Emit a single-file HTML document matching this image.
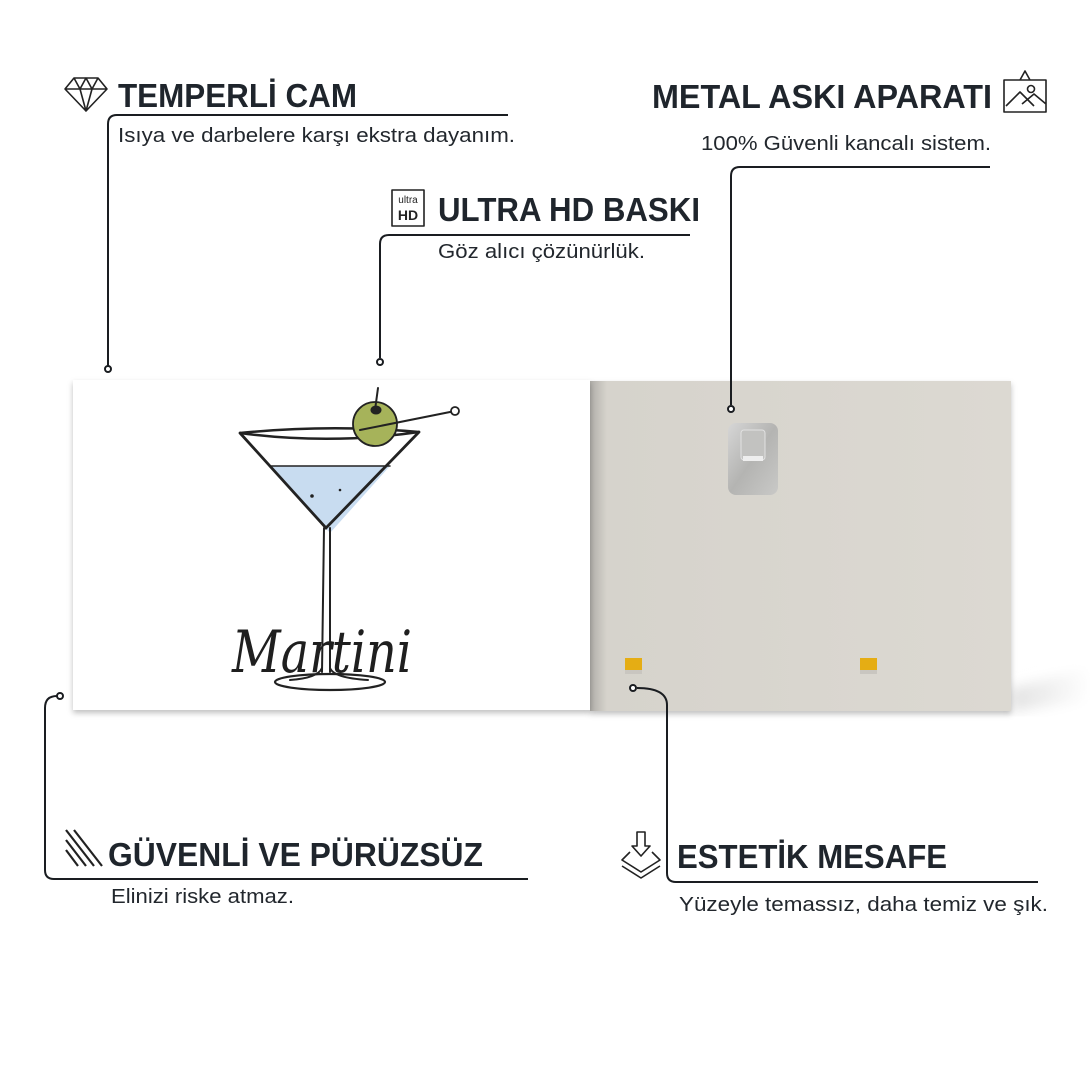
<!DOCTYPE html>
<html><head><meta charset="utf-8"><style>
html,body{margin:0;padding:0;background:#fff;}
svg{display:block;}
.h{font-family:"Liberation Sans",sans-serif;font-weight:bold;fill:#1f252c;}
.s{font-family:"Liberation Sans",sans-serif;fill:#22272d;}
</style></head><body>
<svg width="1090" height="1090" viewBox="0 0 1090 1090" xmlns="http://www.w3.org/2000/svg">
<defs>
<linearGradient id="gl" x1="0" x2="1"><stop offset="0" stop-color="#b0aea9"/><stop offset="0.04" stop-color="#d6d3cc"/><stop offset="1" stop-color="#dcd9d2"/></linearGradient>
<linearGradient id="mt" x1="0" y1="0" x2="1" y2="1"><stop offset="0" stop-color="#d6d6d6"/><stop offset="0.5" stop-color="#b4b4b2"/><stop offset="1" stop-color="#c9c9c7"/></linearGradient>
<linearGradient id="rs" x1="0" x2="1"><stop offset="0" stop-color="#e2e2e2"/><stop offset="1" stop-color="#fff"/></linearGradient>
<filter id="sh" x="-5%" y="-5%" width="110%" height="115%"><feDropShadow dx="0" dy="3" stdDeviation="3" flood-color="#000" flood-opacity="0.25"/></filter>
<filter id="bl"><feGaussianBlur stdDeviation="6"/></filter>
</defs>
<polygon points="1011,688 1090,668 1090,700 1011,712" fill="url(#rs)" filter="url(#bl)"/>
<rect x="590" y="381" width="421" height="330" fill="url(#gl)" filter="url(#sh)"/>
<rect x="625" y="658" width="17" height="12" fill="#e5ad14"/><rect x="625" y="670" width="17" height="4" fill="#c9c6c0"/>
<rect x="860" y="658" width="17" height="12" fill="#e5ad14"/><rect x="860" y="670" width="17" height="4" fill="#c9c6c0"/>
<rect x="728" y="423" width="50" height="72" rx="8" fill="url(#mt)"/>
<rect x="741" y="430" width="24" height="30" rx="3" fill="#c2c2c0" stroke="#e2e2e2" stroke-width="1"/>
<rect x="743" y="456" width="20" height="5" fill="#eeeeee"/>
<rect x="73" y="380" width="517" height="330" fill="#fff" filter="url(#sh)"/>
<g fill="none" stroke="#222" stroke-linecap="round">
<polygon points="271,466 390,466 330,533" fill="#c8dcf0" stroke="none"/>
<path d="M240,433 Q330,424 419,432 Q330,445 240,433 Z" stroke-width="2.5"/>
<path d="M240,433 L326,528 L419,432" stroke-width="2.8"/>
<path d="M271,466 L390,466" stroke-width="1.5"/>
<path d="M324,528 L322,672 M330,528 L330,672" stroke-width="2"/>
<ellipse cx="330" cy="682" rx="55" ry="8" stroke-width="2.2" fill="#fff"/>
<path d="M322,668 Q318,678 290,680 M330,668 Q334,678 368,680" stroke-width="2"/>
<circle cx="375" cy="424" r="22" fill="#a6b35a" stroke-width="1.8"/>
<path d="M360,430 L455,411" stroke-width="2"/>
<circle cx="455" cy="411" r="4" fill="#fff" stroke-width="1.8"/>
<path d="M375,410 L378,388" stroke-width="2"/>
<ellipse cx="376" cy="410" rx="5" ry="4" fill="#222"/>
<circle cx="312" cy="496" r="1.8" fill="#222" stroke="none"/>
<circle cx="340" cy="490" r="1.3" fill="#222" stroke="none"/>
</g>
<text x="232" y="672" font-family="'DejaVu Serif',serif" font-style="italic" font-size="58" fill="#1f1f1f" textLength="180" lengthAdjust="spacingAndGlyphs">Martini</text>
<g fill="none" stroke="#1a1d21" stroke-width="2">
<path d="M108,366 L108,124 Q108,115 117,115 L508,115"/>
<path d="M380,358 L380,244 Q380,235 389,235 L690,235"/>
<path d="M731,405 L731,176 Q731,167 740,167 L990,167"/>
<path d="M57,696 Q45,696 45,708 L45,870 Q45,879 54,879 L528,879"/>
<path d="M637,688 Q667,688 667,705 L667,873 Q667,882 676,882 L1038,882"/>
</g>
<g fill="#fff" stroke="#1a1d21" stroke-width="2">
<circle cx="108" cy="369" r="3"/><circle cx="380" cy="362" r="3"/><circle cx="731" cy="409" r="3"/><circle cx="60" cy="696" r="3"/><circle cx="633" cy="688" r="3"/>
</g>
<text class="h" x="118" y="107" font-size="33" textLength="239" lengthAdjust="spacingAndGlyphs">TEMPERLİ CAM</text>
<text class="s" x="118" y="142" font-size="20" textLength="397" lengthAdjust="spacingAndGlyphs">Isıya ve darbelere karşı ekstra dayanım.</text>
<text class="h" x="438" y="221" font-size="33" textLength="262" lengthAdjust="spacingAndGlyphs">ULTRA HD BASKI</text>
<text class="s" x="438" y="258" font-size="20" textLength="207" lengthAdjust="spacingAndGlyphs">Göz alıcı çözünürlük.</text>
<text class="h" x="652" y="108" font-size="33" textLength="340" lengthAdjust="spacingAndGlyphs">METAL ASKI APARATI</text>
<text class="s" x="701" y="150" font-size="20" textLength="290" lengthAdjust="spacingAndGlyphs">100% Güvenli kancalı sistem.</text>
<text class="h" x="108" y="866" font-size="33" textLength="375" lengthAdjust="spacingAndGlyphs">GÜVENLİ VE PÜRÜZSÜZ</text>
<text class="s" x="111" y="903" font-size="20" textLength="183" lengthAdjust="spacingAndGlyphs">Elinizi riske atmaz.</text>
<text class="h" x="677" y="868" font-size="33" textLength="270" lengthAdjust="spacingAndGlyphs">ESTETİK MESAFE</text>
<text class="s" x="679" y="911" font-size="20" textLength="369" lengthAdjust="spacingAndGlyphs">Yüzeyle temassız, daha temiz ve şık.</text>
<g fill="none" stroke="#222" stroke-width="1.6" stroke-linejoin="round">
<path d="M74,78 L98,78 L107,89 L86,111 L65,89 Z M65,89 L107,89 M74,78 L80,89 L86,78 L92,89 L98,78 M80,89 L86,111 L92,89"/>
<rect x="392" y="190" width="32" height="36"/>
<path d="M1004,80 L1046,80 L1046,112 L1004,112 Z M1020,80 L1025,71 L1030,80 M1006,106 L1020,92 L1034,106 M1022,104 L1034,94 L1046,104"/>
<circle cx="1031" cy="89" r="3.5"/>
<path d="M637,832 L637,846 L632,846 L641,856 L650,846 L645,846 L645,832 Z M630,852 L622,860 L641,872 L660,860 L652,852 M622,866 L641,878 L660,866"/>
</g>
<g stroke="#222" stroke-width="2.2">
<path d="M66,830 L94,866 M66,840 L86,866 M66,850 L78,866 M74,830 L102,866"/>
</g>
<text x="408" y="203" font-family="'Liberation Sans',sans-serif" font-size="10" text-anchor="middle" fill="#222">ultra</text>
<text x="408" y="220" font-family="'Liberation Sans',sans-serif" font-weight="bold" font-size="14" text-anchor="middle" fill="#222">HD</text>
</svg>
</body></html>
